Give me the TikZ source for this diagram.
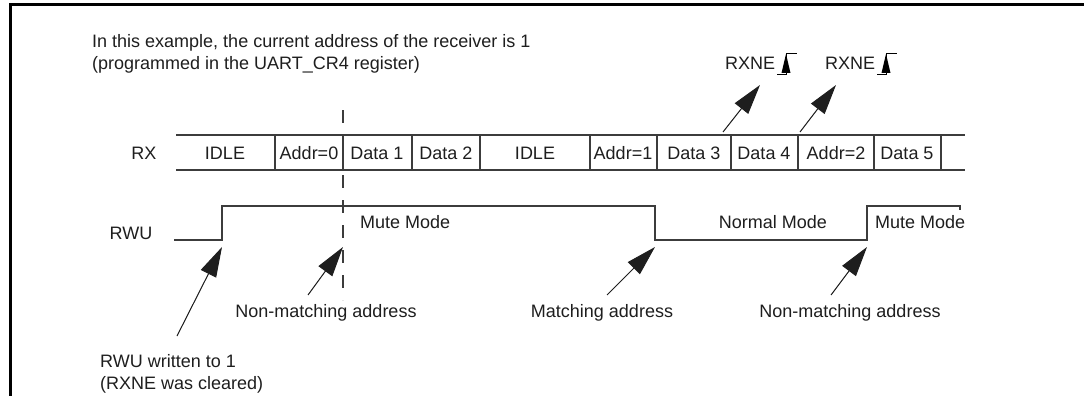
\documentclass[tikz,border=0pt]{standalone}
\usepackage{fontspec}
\setmainfont{Liberation Sans}
\usepackage{xcolor}
\usetikzlibrary{arrows.meta}

\definecolor{wavegray}{RGB}{60,60,60}
\definecolor{textgray}{RGB}{30,30,30}

\begin{document}
\begin{tikzpicture}[x=1pt, y=-1pt,
        lbl/.style={font=\fontsize{18}{21}\selectfont, text=textgray, inner sep=0pt},
        cell/.style={lbl},
        wave/.style={draw=wavegray, line width=1.4pt},
        marker/.style={draw=wavegray, line width=1.2pt, dash pattern=on 13pt off 12pt},
        arr/.style={-{Triangle[length=30pt, width=17pt]}, line width=1pt, draw=textgray, fill=black},
        rxneedge/.pic={
            \draw[line width=0.8pt] (-9,11) -- (0,11) -- (0,-10) -- (11,-10);
            \fill (-4.5,10) -- (4.5,10) -- (0,-9) -- cycle;
        },
    ]
    \useasboundingbox (0,0) rectangle (1084,396);

    % Frame
    \draw[line width=3pt] (10,396) -- (10,5) -- (1084,5);

    % Intro text
    \node[lbl, anchor=base west, align=left] (intro) at (92,48)
        {In this example, the current address of the receiver is 1};
    \node[lbl, anchor=base west, align=left] (intro2) at (92,70)
        {(programmed in the UART\_CR4 register)};

    % RX row
    \node[lbl] (rx) at (144,153) {RX};
    \draw[wave] (176,135) -- (965,135);
    \draw[wave] (176,170) -- (965,170);
    \foreach \x in {275,343,412,480,590,657,731,798,874,941}
        \draw[wave] (\x,135) -- (\x,170);
    \foreach \x/\t [count=\i] in {225/IDLE, 309/Addr=0, 377/Data 1, 446/Data 2, 535/IDLE,
            623/Addr=1, 694/Data 3, 764/Data 4, 836/Addr=2, 907/Data 5}
        \node[cell] (c\i) at (\x,153) {\t};

    % Marker at Addr=0 end
    \draw[marker] (343,110) -- (343,135);
    \draw[marker] (343,175) -- (343,300);

    % RWU row
    \node[lbl] (rwu) at (131,233) {RWU};
    \draw[wave] (174,240) -- (222,240) -- (222,206) -- (655,206) -- (655,240)
        -- (867,240) -- (867,206) -- (960,206) -- (960,210);
    \node[lbl, anchor=west] (mute1) at (360,222) {Mute Mode};
    \node[lbl] (normal) at (773,222) {Normal Mode};
    \node[lbl, anchor=west] (mute2) at (875,222) {Mute Mode};

    % RXNE flags
    \node[lbl] (rxne1) at (750,63) {RXNE};
    \pic at (786,63) {rxneedge};
    \node[lbl] (rxne2) at (850,63) {RXNE};
    \pic at (886,63) {rxneedge};
    \coordinate (rxa1) at (723,132);
    \coordinate (rxa2) at (800,132);
    \draw[arr] (rxa1) -- (760,85);
    \draw[arr] (rxa2) -- (836,85);

    % Bottom notes
    \node[lbl] (nonmatch1) at (326,313) {Non-matching address};
    \node[lbl] (match) at (602,313) {Matching address};
    \node[lbl] (nonmatch2) at (850,313) {Non-matching address};
    \node[lbl, anchor=base west, align=left] (written) at (100,367) {RWU written to 1};
    \node[lbl, anchor=base west, align=left] (cleared) at (100,389) {(RXNE was cleared)};

    % Arrows to RWU edges
    \coordinate (t1) at (177,336);
    \coordinate (h1) at (222,247);
    \coordinate (t2) at (308,295);
    \coordinate (h2) at (343,247);
    \coordinate (t3) at (607,295);
    \coordinate (h3) at (655,247);
    \coordinate (t4) at (831,295);
    \coordinate (h4) at (867,247);
    \draw[arr] (t1) -- (h1);
    \draw[arr] (t2) -- (h2);
    \draw[arr] (t3) -- (h3);
    \draw[arr] (t4) -- (h4);

    \end{tikzpicture}
\end{document}
